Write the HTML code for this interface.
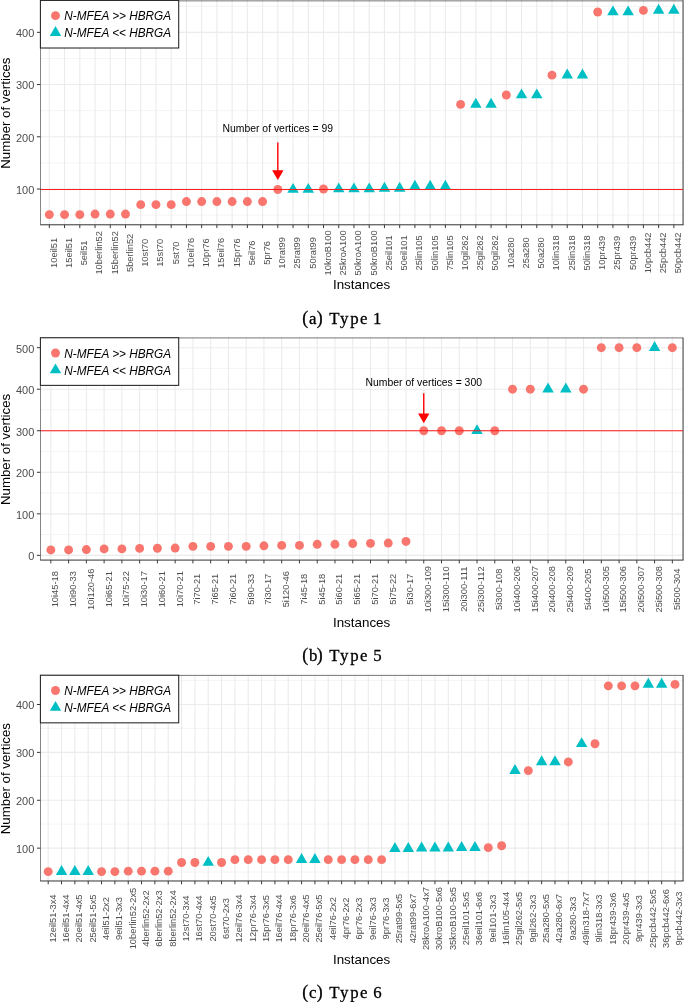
<!DOCTYPE html>
<html><head><meta charset="utf-8"><title>Figure</title>
<style>html,body{margin:0;padding:0;background:#fff;} svg{display:block;will-change:transform;} text{font-family:"Liberation Sans", sans-serif;}</style>
</head><body>
<svg width="685" height="1002" viewBox="0 0 685 1002">
<rect width="685" height="1002" fill="#fff"/>
<line x1="40.2" x2="683" y1="215.1" y2="215.1" stroke="#F3F3F3" stroke-width="0.9"/>
<line x1="40.2" x2="683" y1="162.89" y2="162.89" stroke="#F3F3F3" stroke-width="0.9"/>
<line x1="40.2" x2="683" y1="110.67" y2="110.67" stroke="#F3F3F3" stroke-width="0.9"/>
<line x1="40.2" x2="683" y1="58.46" y2="58.46" stroke="#F3F3F3" stroke-width="0.9"/>
<line x1="40.2" x2="683" y1="6.24" y2="6.24" stroke="#F3F3F3" stroke-width="0.9"/>
<line x1="40.2" x2="683" y1="189" y2="189" stroke="#EBEBEB" stroke-width="1.1"/>
<line x1="40.2" x2="683" y1="136.78" y2="136.78" stroke="#EBEBEB" stroke-width="1.1"/>
<line x1="40.2" x2="683" y1="84.56" y2="84.56" stroke="#EBEBEB" stroke-width="1.1"/>
<line x1="40.2" x2="683" y1="32.35" y2="32.35" stroke="#EBEBEB" stroke-width="1.1"/>
<line x1="49.34" x2="49.34" y1="0.21" y2="224.79" stroke="#EBEBEB" stroke-width="1.1"/>
<line x1="64.57" x2="64.57" y1="0.21" y2="224.79" stroke="#EBEBEB" stroke-width="1.1"/>
<line x1="79.8" x2="79.8" y1="0.21" y2="224.79" stroke="#EBEBEB" stroke-width="1.1"/>
<line x1="95.04" x2="95.04" y1="0.21" y2="224.79" stroke="#EBEBEB" stroke-width="1.1"/>
<line x1="110.27" x2="110.27" y1="0.21" y2="224.79" stroke="#EBEBEB" stroke-width="1.1"/>
<line x1="125.5" x2="125.5" y1="0.21" y2="224.79" stroke="#EBEBEB" stroke-width="1.1"/>
<line x1="140.73" x2="140.73" y1="0.21" y2="224.79" stroke="#EBEBEB" stroke-width="1.1"/>
<line x1="155.96" x2="155.96" y1="0.21" y2="224.79" stroke="#EBEBEB" stroke-width="1.1"/>
<line x1="171.2" x2="171.2" y1="0.21" y2="224.79" stroke="#EBEBEB" stroke-width="1.1"/>
<line x1="186.43" x2="186.43" y1="0.21" y2="224.79" stroke="#EBEBEB" stroke-width="1.1"/>
<line x1="201.66" x2="201.66" y1="0.21" y2="224.79" stroke="#EBEBEB" stroke-width="1.1"/>
<line x1="216.89" x2="216.89" y1="0.21" y2="224.79" stroke="#EBEBEB" stroke-width="1.1"/>
<line x1="232.13" x2="232.13" y1="0.21" y2="224.79" stroke="#EBEBEB" stroke-width="1.1"/>
<line x1="247.36" x2="247.36" y1="0.21" y2="224.79" stroke="#EBEBEB" stroke-width="1.1"/>
<line x1="262.59" x2="262.59" y1="0.21" y2="224.79" stroke="#EBEBEB" stroke-width="1.1"/>
<line x1="277.82" x2="277.82" y1="0.21" y2="224.79" stroke="#EBEBEB" stroke-width="1.1"/>
<line x1="293.05" x2="293.05" y1="0.21" y2="224.79" stroke="#EBEBEB" stroke-width="1.1"/>
<line x1="308.29" x2="308.29" y1="0.21" y2="224.79" stroke="#EBEBEB" stroke-width="1.1"/>
<line x1="323.52" x2="323.52" y1="0.21" y2="224.79" stroke="#EBEBEB" stroke-width="1.1"/>
<line x1="338.75" x2="338.75" y1="0.21" y2="224.79" stroke="#EBEBEB" stroke-width="1.1"/>
<line x1="353.98" x2="353.98" y1="0.21" y2="224.79" stroke="#EBEBEB" stroke-width="1.1"/>
<line x1="369.22" x2="369.22" y1="0.21" y2="224.79" stroke="#EBEBEB" stroke-width="1.1"/>
<line x1="384.45" x2="384.45" y1="0.21" y2="224.79" stroke="#EBEBEB" stroke-width="1.1"/>
<line x1="399.68" x2="399.68" y1="0.21" y2="224.79" stroke="#EBEBEB" stroke-width="1.1"/>
<line x1="414.91" x2="414.91" y1="0.21" y2="224.79" stroke="#EBEBEB" stroke-width="1.1"/>
<line x1="430.15" x2="430.15" y1="0.21" y2="224.79" stroke="#EBEBEB" stroke-width="1.1"/>
<line x1="445.38" x2="445.38" y1="0.21" y2="224.79" stroke="#EBEBEB" stroke-width="1.1"/>
<line x1="460.61" x2="460.61" y1="0.21" y2="224.79" stroke="#EBEBEB" stroke-width="1.1"/>
<line x1="475.84" x2="475.84" y1="0.21" y2="224.79" stroke="#EBEBEB" stroke-width="1.1"/>
<line x1="491.07" x2="491.07" y1="0.21" y2="224.79" stroke="#EBEBEB" stroke-width="1.1"/>
<line x1="506.31" x2="506.31" y1="0.21" y2="224.79" stroke="#EBEBEB" stroke-width="1.1"/>
<line x1="521.54" x2="521.54" y1="0.21" y2="224.79" stroke="#EBEBEB" stroke-width="1.1"/>
<line x1="536.77" x2="536.77" y1="0.21" y2="224.79" stroke="#EBEBEB" stroke-width="1.1"/>
<line x1="552" x2="552" y1="0.21" y2="224.79" stroke="#EBEBEB" stroke-width="1.1"/>
<line x1="567.24" x2="567.24" y1="0.21" y2="224.79" stroke="#EBEBEB" stroke-width="1.1"/>
<line x1="582.47" x2="582.47" y1="0.21" y2="224.79" stroke="#EBEBEB" stroke-width="1.1"/>
<line x1="597.7" x2="597.7" y1="0.21" y2="224.79" stroke="#EBEBEB" stroke-width="1.1"/>
<line x1="612.93" x2="612.93" y1="0.21" y2="224.79" stroke="#EBEBEB" stroke-width="1.1"/>
<line x1="628.16" x2="628.16" y1="0.21" y2="224.79" stroke="#EBEBEB" stroke-width="1.1"/>
<line x1="643.4" x2="643.4" y1="0.21" y2="224.79" stroke="#EBEBEB" stroke-width="1.1"/>
<line x1="658.63" x2="658.63" y1="0.21" y2="224.79" stroke="#EBEBEB" stroke-width="1.1"/>
<line x1="673.86" x2="673.86" y1="0.21" y2="224.79" stroke="#EBEBEB" stroke-width="1.1"/>
<line x1="40.2" x2="683.05" y1="0.87" y2="0.87" stroke="#333" stroke-width="0.68"/>
<line x1="683.05" x2="683.05" y1="0.21" y2="224.79" stroke="#333" stroke-width="1.0"/>
<circle cx="49.34" cy="214.58" r="4.45" fill="#F8766D"/>
<circle cx="64.57" cy="214.58" r="4.45" fill="#F8766D"/>
<circle cx="79.8" cy="214.58" r="4.45" fill="#F8766D"/>
<circle cx="95.04" cy="214.06" r="4.45" fill="#F8766D"/>
<circle cx="110.27" cy="214.06" r="4.45" fill="#F8766D"/>
<circle cx="125.5" cy="214.06" r="4.45" fill="#F8766D"/>
<circle cx="140.73" cy="204.66" r="4.45" fill="#F8766D"/>
<circle cx="155.96" cy="204.66" r="4.45" fill="#F8766D"/>
<circle cx="171.2" cy="204.66" r="4.45" fill="#F8766D"/>
<circle cx="186.43" cy="201.53" r="4.45" fill="#F8766D"/>
<circle cx="201.66" cy="201.53" r="4.45" fill="#F8766D"/>
<circle cx="216.89" cy="201.53" r="4.45" fill="#F8766D"/>
<circle cx="232.13" cy="201.53" r="4.45" fill="#F8766D"/>
<circle cx="247.36" cy="201.53" r="4.45" fill="#F8766D"/>
<circle cx="262.59" cy="201.53" r="4.45" fill="#F8766D"/>
<circle cx="277.82" cy="189.52" r="4.45" fill="#F8766D"/>
<path d="M293.05 182.91L298.78 192.82L287.33 192.82Z" fill="#00BFC4"/>
<path d="M308.29 182.91L314.01 192.82L302.56 192.82Z" fill="#00BFC4"/>
<circle cx="323.52" cy="189" r="4.45" fill="#F8766D"/>
<path d="M338.75 182.39L344.48 192.3L333.03 192.3Z" fill="#00BFC4"/>
<path d="M353.98 182.39L359.71 192.3L348.26 192.3Z" fill="#00BFC4"/>
<path d="M369.22 182.39L374.94 192.3L363.49 192.3Z" fill="#00BFC4"/>
<path d="M384.45 181.86L390.17 191.78L378.72 191.78Z" fill="#00BFC4"/>
<path d="M399.68 181.86L405.4 191.78L393.96 191.78Z" fill="#00BFC4"/>
<path d="M414.91 179.78L420.64 189.69L409.19 189.69Z" fill="#00BFC4"/>
<path d="M430.15 179.78L435.87 189.69L424.42 189.69Z" fill="#00BFC4"/>
<path d="M445.38 179.78L451.1 189.69L439.65 189.69Z" fill="#00BFC4"/>
<circle cx="460.61" cy="104.41" r="4.45" fill="#F8766D"/>
<path d="M475.84 97.8L481.57 107.71L470.12 107.71Z" fill="#00BFC4"/>
<path d="M491.07 97.8L496.8 107.71L485.35 107.71Z" fill="#00BFC4"/>
<circle cx="506.31" cy="95.01" r="4.45" fill="#F8766D"/>
<path d="M521.54 88.4L527.26 98.31L515.81 98.31Z" fill="#00BFC4"/>
<path d="M536.77 88.4L542.49 98.31L531.05 98.31Z" fill="#00BFC4"/>
<circle cx="552" cy="75.17" r="4.45" fill="#F8766D"/>
<path d="M567.24 68.56L572.96 78.47L561.51 78.47Z" fill="#00BFC4"/>
<path d="M582.47 68.56L588.19 78.47L576.74 78.47Z" fill="#00BFC4"/>
<circle cx="597.7" cy="11.98" r="4.45" fill="#F8766D"/>
<path d="M612.93 5.38L618.66 15.29L607.21 15.29Z" fill="#00BFC4"/>
<path d="M628.16 5.38L633.89 15.29L622.44 15.29Z" fill="#00BFC4"/>
<circle cx="643.4" cy="10.42" r="4.45" fill="#F8766D"/>
<path d="M658.63 3.81L664.35 13.72L652.9 13.72Z" fill="#00BFC4"/>
<path d="M673.86 3.81L679.58 13.72L668.14 13.72Z" fill="#00BFC4"/>
<line x1="40.2" x2="683" y1="189.52" y2="189.52" stroke="#FF1A1A" stroke-width="1.0"/>
<line x1="277.82" x2="277.82" y1="142.52" y2="171.32" stroke="#FF0000" stroke-width="1.4"/>
<path d="M272.12 170.32L283.52 170.32L277.82 180.12Z" fill="#FF0000"/>
<text x="277.82" y="131.7" font-size="10.4" text-anchor="middle" fill="#000">Number of vertices = 99</text>
<line x1="40.5" x2="40.5" y1="0.21" y2="224.79" stroke="#333" stroke-width="0.6"/>
<line x1="40.2" x2="683.55" y1="224.79" y2="224.79" stroke="#333" stroke-width="1.0"/>
<line x1="36.9" x2="40.4" y1="189" y2="189" stroke="#3a3a3a" stroke-width="1.0"/>
<text x="34.35" y="193.85" font-size="11.0" text-anchor="end" fill="#4D4D4D">100</text>
<line x1="36.9" x2="40.4" y1="136.78" y2="136.78" stroke="#3a3a3a" stroke-width="1.0"/>
<text x="34.35" y="141.63" font-size="11.0" text-anchor="end" fill="#4D4D4D">200</text>
<line x1="36.9" x2="40.4" y1="84.56" y2="84.56" stroke="#3a3a3a" stroke-width="1.0"/>
<text x="34.35" y="89.41" font-size="11.0" text-anchor="end" fill="#4D4D4D">300</text>
<line x1="36.9" x2="40.4" y1="32.35" y2="32.35" stroke="#3a3a3a" stroke-width="1.0"/>
<text x="34.35" y="37.2" font-size="11.0" text-anchor="end" fill="#4D4D4D">400</text>
<line x1="49.34" x2="49.34" y1="224.79" y2="228.09" stroke="#3a3a3a" stroke-width="1.0"/>
<text transform="translate(56.74 252.9) rotate(-90)" font-size="9.3" text-anchor="middle" fill="#4D4D4D">10eil51</text>
<line x1="64.57" x2="64.57" y1="224.79" y2="228.09" stroke="#3a3a3a" stroke-width="1.0"/>
<text transform="translate(71.97 252.9) rotate(-90)" font-size="9.3" text-anchor="middle" fill="#4D4D4D">15eil51</text>
<line x1="79.8" x2="79.8" y1="224.79" y2="228.09" stroke="#3a3a3a" stroke-width="1.0"/>
<text transform="translate(87.2 252.9) rotate(-90)" font-size="9.3" text-anchor="middle" fill="#4D4D4D">5eil51</text>
<line x1="95.04" x2="95.04" y1="224.79" y2="228.09" stroke="#3a3a3a" stroke-width="1.0"/>
<text transform="translate(102.44 252.9) rotate(-90)" font-size="9.3" text-anchor="middle" fill="#4D4D4D">10berlin52</text>
<line x1="110.27" x2="110.27" y1="224.79" y2="228.09" stroke="#3a3a3a" stroke-width="1.0"/>
<text transform="translate(117.67 252.9) rotate(-90)" font-size="9.3" text-anchor="middle" fill="#4D4D4D">15berlin52</text>
<line x1="125.5" x2="125.5" y1="224.79" y2="228.09" stroke="#3a3a3a" stroke-width="1.0"/>
<text transform="translate(132.9 252.9) rotate(-90)" font-size="9.3" text-anchor="middle" fill="#4D4D4D">5berlin52</text>
<line x1="140.73" x2="140.73" y1="224.79" y2="228.09" stroke="#3a3a3a" stroke-width="1.0"/>
<text transform="translate(148.13 252.9) rotate(-90)" font-size="9.3" text-anchor="middle" fill="#4D4D4D">10st70</text>
<line x1="155.96" x2="155.96" y1="224.79" y2="228.09" stroke="#3a3a3a" stroke-width="1.0"/>
<text transform="translate(163.36 252.9) rotate(-90)" font-size="9.3" text-anchor="middle" fill="#4D4D4D">15st70</text>
<line x1="171.2" x2="171.2" y1="224.79" y2="228.09" stroke="#3a3a3a" stroke-width="1.0"/>
<text transform="translate(178.6 252.9) rotate(-90)" font-size="9.3" text-anchor="middle" fill="#4D4D4D">5st70</text>
<line x1="186.43" x2="186.43" y1="224.79" y2="228.09" stroke="#3a3a3a" stroke-width="1.0"/>
<text transform="translate(193.83 252.9) rotate(-90)" font-size="9.3" text-anchor="middle" fill="#4D4D4D">10eil76</text>
<line x1="201.66" x2="201.66" y1="224.79" y2="228.09" stroke="#3a3a3a" stroke-width="1.0"/>
<text transform="translate(209.06 252.9) rotate(-90)" font-size="9.3" text-anchor="middle" fill="#4D4D4D">10pr76</text>
<line x1="216.89" x2="216.89" y1="224.79" y2="228.09" stroke="#3a3a3a" stroke-width="1.0"/>
<text transform="translate(224.29 252.9) rotate(-90)" font-size="9.3" text-anchor="middle" fill="#4D4D4D">15eil76</text>
<line x1="232.13" x2="232.13" y1="224.79" y2="228.09" stroke="#3a3a3a" stroke-width="1.0"/>
<text transform="translate(239.53 252.9) rotate(-90)" font-size="9.3" text-anchor="middle" fill="#4D4D4D">15pr76</text>
<line x1="247.36" x2="247.36" y1="224.79" y2="228.09" stroke="#3a3a3a" stroke-width="1.0"/>
<text transform="translate(254.76 252.9) rotate(-90)" font-size="9.3" text-anchor="middle" fill="#4D4D4D">5eil76</text>
<line x1="262.59" x2="262.59" y1="224.79" y2="228.09" stroke="#3a3a3a" stroke-width="1.0"/>
<text transform="translate(269.99 252.9) rotate(-90)" font-size="9.3" text-anchor="middle" fill="#4D4D4D">5pr76</text>
<line x1="277.82" x2="277.82" y1="224.79" y2="228.09" stroke="#3a3a3a" stroke-width="1.0"/>
<text transform="translate(285.22 252.9) rotate(-90)" font-size="9.3" text-anchor="middle" fill="#4D4D4D">10rat99</text>
<line x1="293.05" x2="293.05" y1="224.79" y2="228.09" stroke="#3a3a3a" stroke-width="1.0"/>
<text transform="translate(300.45 252.9) rotate(-90)" font-size="9.3" text-anchor="middle" fill="#4D4D4D">25rat99</text>
<line x1="308.29" x2="308.29" y1="224.79" y2="228.09" stroke="#3a3a3a" stroke-width="1.0"/>
<text transform="translate(315.69 252.9) rotate(-90)" font-size="9.3" text-anchor="middle" fill="#4D4D4D">50rat99</text>
<line x1="323.52" x2="323.52" y1="224.79" y2="228.09" stroke="#3a3a3a" stroke-width="1.0"/>
<text transform="translate(330.92 252.9) rotate(-90)" font-size="9.3" text-anchor="middle" fill="#4D4D4D">10kroB100</text>
<line x1="338.75" x2="338.75" y1="224.79" y2="228.09" stroke="#3a3a3a" stroke-width="1.0"/>
<text transform="translate(346.15 252.9) rotate(-90)" font-size="9.3" text-anchor="middle" fill="#4D4D4D">25kroA100</text>
<line x1="353.98" x2="353.98" y1="224.79" y2="228.09" stroke="#3a3a3a" stroke-width="1.0"/>
<text transform="translate(361.38 252.9) rotate(-90)" font-size="9.3" text-anchor="middle" fill="#4D4D4D">50kroA100</text>
<line x1="369.22" x2="369.22" y1="224.79" y2="228.09" stroke="#3a3a3a" stroke-width="1.0"/>
<text transform="translate(376.62 252.9) rotate(-90)" font-size="9.3" text-anchor="middle" fill="#4D4D4D">50kroB100</text>
<line x1="384.45" x2="384.45" y1="224.79" y2="228.09" stroke="#3a3a3a" stroke-width="1.0"/>
<text transform="translate(391.85 252.9) rotate(-90)" font-size="9.3" text-anchor="middle" fill="#4D4D4D">25eil101</text>
<line x1="399.68" x2="399.68" y1="224.79" y2="228.09" stroke="#3a3a3a" stroke-width="1.0"/>
<text transform="translate(407.08 252.9) rotate(-90)" font-size="9.3" text-anchor="middle" fill="#4D4D4D">50eil101</text>
<line x1="414.91" x2="414.91" y1="224.79" y2="228.09" stroke="#3a3a3a" stroke-width="1.0"/>
<text transform="translate(422.31 252.9) rotate(-90)" font-size="9.3" text-anchor="middle" fill="#4D4D4D">25lin105</text>
<line x1="430.15" x2="430.15" y1="224.79" y2="228.09" stroke="#3a3a3a" stroke-width="1.0"/>
<text transform="translate(437.55 252.9) rotate(-90)" font-size="9.3" text-anchor="middle" fill="#4D4D4D">50lin105</text>
<line x1="445.38" x2="445.38" y1="224.79" y2="228.09" stroke="#3a3a3a" stroke-width="1.0"/>
<text transform="translate(452.78 252.9) rotate(-90)" font-size="9.3" text-anchor="middle" fill="#4D4D4D">75lin105</text>
<line x1="460.61" x2="460.61" y1="224.79" y2="228.09" stroke="#3a3a3a" stroke-width="1.0"/>
<text transform="translate(468.01 252.9) rotate(-90)" font-size="9.3" text-anchor="middle" fill="#4D4D4D">10gil262</text>
<line x1="475.84" x2="475.84" y1="224.79" y2="228.09" stroke="#3a3a3a" stroke-width="1.0"/>
<text transform="translate(483.24 252.9) rotate(-90)" font-size="9.3" text-anchor="middle" fill="#4D4D4D">25gil262</text>
<line x1="491.07" x2="491.07" y1="224.79" y2="228.09" stroke="#3a3a3a" stroke-width="1.0"/>
<text transform="translate(498.47 252.9) rotate(-90)" font-size="9.3" text-anchor="middle" fill="#4D4D4D">50gil262</text>
<line x1="506.31" x2="506.31" y1="224.79" y2="228.09" stroke="#3a3a3a" stroke-width="1.0"/>
<text transform="translate(513.71 252.9) rotate(-90)" font-size="9.3" text-anchor="middle" fill="#4D4D4D">10a280</text>
<line x1="521.54" x2="521.54" y1="224.79" y2="228.09" stroke="#3a3a3a" stroke-width="1.0"/>
<text transform="translate(528.94 252.9) rotate(-90)" font-size="9.3" text-anchor="middle" fill="#4D4D4D">25a280</text>
<line x1="536.77" x2="536.77" y1="224.79" y2="228.09" stroke="#3a3a3a" stroke-width="1.0"/>
<text transform="translate(544.17 252.9) rotate(-90)" font-size="9.3" text-anchor="middle" fill="#4D4D4D">50a280</text>
<line x1="552" x2="552" y1="224.79" y2="228.09" stroke="#3a3a3a" stroke-width="1.0"/>
<text transform="translate(559.4 252.9) rotate(-90)" font-size="9.3" text-anchor="middle" fill="#4D4D4D">10lin318</text>
<line x1="567.24" x2="567.24" y1="224.79" y2="228.09" stroke="#3a3a3a" stroke-width="1.0"/>
<text transform="translate(574.64 252.9) rotate(-90)" font-size="9.3" text-anchor="middle" fill="#4D4D4D">25lin318</text>
<line x1="582.47" x2="582.47" y1="224.79" y2="228.09" stroke="#3a3a3a" stroke-width="1.0"/>
<text transform="translate(589.87 252.9) rotate(-90)" font-size="9.3" text-anchor="middle" fill="#4D4D4D">50lin318</text>
<line x1="597.7" x2="597.7" y1="224.79" y2="228.09" stroke="#3a3a3a" stroke-width="1.0"/>
<text transform="translate(605.1 252.9) rotate(-90)" font-size="9.3" text-anchor="middle" fill="#4D4D4D">10pr439</text>
<line x1="612.93" x2="612.93" y1="224.79" y2="228.09" stroke="#3a3a3a" stroke-width="1.0"/>
<text transform="translate(620.33 252.9) rotate(-90)" font-size="9.3" text-anchor="middle" fill="#4D4D4D">25pr439</text>
<line x1="628.16" x2="628.16" y1="224.79" y2="228.09" stroke="#3a3a3a" stroke-width="1.0"/>
<text transform="translate(635.56 252.9) rotate(-90)" font-size="9.3" text-anchor="middle" fill="#4D4D4D">50pr439</text>
<line x1="643.4" x2="643.4" y1="224.79" y2="228.09" stroke="#3a3a3a" stroke-width="1.0"/>
<text transform="translate(650.8 252.9) rotate(-90)" font-size="9.3" text-anchor="middle" fill="#4D4D4D">10pcb442</text>
<line x1="658.63" x2="658.63" y1="224.79" y2="228.09" stroke="#3a3a3a" stroke-width="1.0"/>
<text transform="translate(666.03 252.9) rotate(-90)" font-size="9.3" text-anchor="middle" fill="#4D4D4D">25pcb442</text>
<line x1="673.86" x2="673.86" y1="224.79" y2="228.09" stroke="#3a3a3a" stroke-width="1.0"/>
<text transform="translate(681.26 252.9) rotate(-90)" font-size="9.3" text-anchor="middle" fill="#4D4D4D">50pcb442</text>
<text transform="translate(9.9 113.1) rotate(-90)" font-size="13.25" text-anchor="middle" fill="#000">Number of vertices</text>
<text x="361.6" y="289.3" font-size="13.4" text-anchor="middle" fill="#000">Instances</text>
<rect x="40.4" y="0.41" width="138.3" height="47.6" fill="#fff" stroke="#222" stroke-width="1.05"/>
<circle cx="55.5" cy="15.66" r="4.45" fill="#F8766D"/>
<path d="M55.5 26.1L61.22 36.01L49.78 36.01Z" fill="#00BFC4"/>
<text transform="translate(64.2 20.31) scale(1 1.045)" font-size="11.8" font-style="italic" fill="#000">N-MFEA &gt;&gt; HBRGA</text>
<text transform="translate(64.2 37.21) scale(1 1.045)" font-size="11.8" font-style="italic" fill="#000">N-MFEA &lt;&lt; HBRGA</text>
<text style='font-family:"Liberation Serif", serif' fill="#000" stroke="#000" stroke-width="0.3"><tspan x="302.13" y="323.9" font-size="17.8">(</tspan><tspan x="308.99" y="323.9" font-size="16.8">a</tspan><tspan x="316.84" y="323.9" font-size="17.8">)</tspan><tspan x="329.31" y="323.9" font-size="16.8">T</tspan><tspan x="339.98" y="323.9" font-size="16.8">y</tspan><tspan x="350.19" y="323.9" font-size="16.8">p</tspan><tspan x="360.09" y="323.9" font-size="16.8">e</tspan><tspan x="373.07" y="323.9" font-size="16.8">1</tspan></text>
<line x1="40.2" x2="683" y1="534.6" y2="534.6" stroke="#F3F3F3" stroke-width="0.9"/>
<line x1="40.2" x2="683" y1="493.06" y2="493.06" stroke="#F3F3F3" stroke-width="0.9"/>
<line x1="40.2" x2="683" y1="451.52" y2="451.52" stroke="#F3F3F3" stroke-width="0.9"/>
<line x1="40.2" x2="683" y1="409.99" y2="409.99" stroke="#F3F3F3" stroke-width="0.9"/>
<line x1="40.2" x2="683" y1="368.45" y2="368.45" stroke="#F3F3F3" stroke-width="0.9"/>
<line x1="40.2" x2="683" y1="555.37" y2="555.37" stroke="#EBEBEB" stroke-width="1.1"/>
<line x1="40.2" x2="683" y1="513.83" y2="513.83" stroke="#EBEBEB" stroke-width="1.1"/>
<line x1="40.2" x2="683" y1="472.29" y2="472.29" stroke="#EBEBEB" stroke-width="1.1"/>
<line x1="40.2" x2="683" y1="430.76" y2="430.76" stroke="#EBEBEB" stroke-width="1.1"/>
<line x1="40.2" x2="683" y1="389.22" y2="389.22" stroke="#EBEBEB" stroke-width="1.1"/>
<line x1="40.2" x2="683" y1="347.68" y2="347.68" stroke="#EBEBEB" stroke-width="1.1"/>
<line x1="50.85" x2="50.85" y1="337.57" y2="560.08" stroke="#EBEBEB" stroke-width="1.1"/>
<line x1="68.61" x2="68.61" y1="337.57" y2="560.08" stroke="#EBEBEB" stroke-width="1.1"/>
<line x1="86.37" x2="86.37" y1="337.57" y2="560.08" stroke="#EBEBEB" stroke-width="1.1"/>
<line x1="104.12" x2="104.12" y1="337.57" y2="560.08" stroke="#EBEBEB" stroke-width="1.1"/>
<line x1="121.88" x2="121.88" y1="337.57" y2="560.08" stroke="#EBEBEB" stroke-width="1.1"/>
<line x1="139.64" x2="139.64" y1="337.57" y2="560.08" stroke="#EBEBEB" stroke-width="1.1"/>
<line x1="157.4" x2="157.4" y1="337.57" y2="560.08" stroke="#EBEBEB" stroke-width="1.1"/>
<line x1="175.15" x2="175.15" y1="337.57" y2="560.08" stroke="#EBEBEB" stroke-width="1.1"/>
<line x1="192.91" x2="192.91" y1="337.57" y2="560.08" stroke="#EBEBEB" stroke-width="1.1"/>
<line x1="210.67" x2="210.67" y1="337.57" y2="560.08" stroke="#EBEBEB" stroke-width="1.1"/>
<line x1="228.42" x2="228.42" y1="337.57" y2="560.08" stroke="#EBEBEB" stroke-width="1.1"/>
<line x1="246.18" x2="246.18" y1="337.57" y2="560.08" stroke="#EBEBEB" stroke-width="1.1"/>
<line x1="263.94" x2="263.94" y1="337.57" y2="560.08" stroke="#EBEBEB" stroke-width="1.1"/>
<line x1="281.69" x2="281.69" y1="337.57" y2="560.08" stroke="#EBEBEB" stroke-width="1.1"/>
<line x1="299.45" x2="299.45" y1="337.57" y2="560.08" stroke="#EBEBEB" stroke-width="1.1"/>
<line x1="317.21" x2="317.21" y1="337.57" y2="560.08" stroke="#EBEBEB" stroke-width="1.1"/>
<line x1="334.96" x2="334.96" y1="337.57" y2="560.08" stroke="#EBEBEB" stroke-width="1.1"/>
<line x1="352.72" x2="352.72" y1="337.57" y2="560.08" stroke="#EBEBEB" stroke-width="1.1"/>
<line x1="370.48" x2="370.48" y1="337.57" y2="560.08" stroke="#EBEBEB" stroke-width="1.1"/>
<line x1="388.24" x2="388.24" y1="337.57" y2="560.08" stroke="#EBEBEB" stroke-width="1.1"/>
<line x1="405.99" x2="405.99" y1="337.57" y2="560.08" stroke="#EBEBEB" stroke-width="1.1"/>
<line x1="423.75" x2="423.75" y1="337.57" y2="560.08" stroke="#EBEBEB" stroke-width="1.1"/>
<line x1="441.51" x2="441.51" y1="337.57" y2="560.08" stroke="#EBEBEB" stroke-width="1.1"/>
<line x1="459.26" x2="459.26" y1="337.57" y2="560.08" stroke="#EBEBEB" stroke-width="1.1"/>
<line x1="477.02" x2="477.02" y1="337.57" y2="560.08" stroke="#EBEBEB" stroke-width="1.1"/>
<line x1="494.78" x2="494.78" y1="337.57" y2="560.08" stroke="#EBEBEB" stroke-width="1.1"/>
<line x1="512.53" x2="512.53" y1="337.57" y2="560.08" stroke="#EBEBEB" stroke-width="1.1"/>
<line x1="530.29" x2="530.29" y1="337.57" y2="560.08" stroke="#EBEBEB" stroke-width="1.1"/>
<line x1="548.05" x2="548.05" y1="337.57" y2="560.08" stroke="#EBEBEB" stroke-width="1.1"/>
<line x1="565.8" x2="565.8" y1="337.57" y2="560.08" stroke="#EBEBEB" stroke-width="1.1"/>
<line x1="583.56" x2="583.56" y1="337.57" y2="560.08" stroke="#EBEBEB" stroke-width="1.1"/>
<line x1="601.32" x2="601.32" y1="337.57" y2="560.08" stroke="#EBEBEB" stroke-width="1.1"/>
<line x1="619.08" x2="619.08" y1="337.57" y2="560.08" stroke="#EBEBEB" stroke-width="1.1"/>
<line x1="636.83" x2="636.83" y1="337.57" y2="560.08" stroke="#EBEBEB" stroke-width="1.1"/>
<line x1="654.59" x2="654.59" y1="337.57" y2="560.08" stroke="#EBEBEB" stroke-width="1.1"/>
<line x1="672.35" x2="672.35" y1="337.57" y2="560.08" stroke="#EBEBEB" stroke-width="1.1"/>
<line x1="40.2" x2="683.05" y1="337.92" y2="337.92" stroke="#333" stroke-width="0.68"/>
<line x1="683.05" x2="683.05" y1="337.57" y2="560.08" stroke="#333" stroke-width="1.0"/>
<circle cx="50.85" cy="549.97" r="4.45" fill="#F8766D"/>
<circle cx="68.61" cy="549.97" r="4.45" fill="#F8766D"/>
<circle cx="86.37" cy="549.55" r="4.45" fill="#F8766D"/>
<circle cx="104.12" cy="548.89" r="4.45" fill="#F8766D"/>
<circle cx="121.88" cy="548.89" r="4.45" fill="#F8766D"/>
<circle cx="139.64" cy="548.39" r="4.45" fill="#F8766D"/>
<circle cx="157.4" cy="548.26" r="4.45" fill="#F8766D"/>
<circle cx="175.15" cy="548.06" r="4.45" fill="#F8766D"/>
<circle cx="192.91" cy="546.35" r="4.45" fill="#F8766D"/>
<circle cx="210.67" cy="546.35" r="4.45" fill="#F8766D"/>
<circle cx="228.42" cy="546.35" r="4.45" fill="#F8766D"/>
<circle cx="246.18" cy="546.35" r="4.45" fill="#F8766D"/>
<circle cx="263.94" cy="545.81" r="4.45" fill="#F8766D"/>
<circle cx="281.69" cy="545.4" r="4.45" fill="#F8766D"/>
<circle cx="299.45" cy="545.4" r="4.45" fill="#F8766D"/>
<circle cx="317.21" cy="544.28" r="4.45" fill="#F8766D"/>
<circle cx="334.96" cy="544.28" r="4.45" fill="#F8766D"/>
<circle cx="352.72" cy="543.57" r="4.45" fill="#F8766D"/>
<circle cx="370.48" cy="543.36" r="4.45" fill="#F8766D"/>
<circle cx="388.24" cy="543.07" r="4.45" fill="#F8766D"/>
<circle cx="405.99" cy="541.45" r="4.45" fill="#F8766D"/>
<circle cx="423.75" cy="430.76" r="4.45" fill="#F8766D"/>
<circle cx="441.51" cy="430.76" r="4.45" fill="#F8766D"/>
<circle cx="459.26" cy="430.76" r="4.45" fill="#F8766D"/>
<path d="M477.02 424.15L482.74 434.06L471.3 434.06Z" fill="#00BFC4"/>
<circle cx="494.78" cy="430.76" r="4.45" fill="#F8766D"/>
<circle cx="512.53" cy="389.22" r="4.45" fill="#F8766D"/>
<circle cx="530.29" cy="389.22" r="4.45" fill="#F8766D"/>
<path d="M548.05 382.61L553.77 392.53L542.32 392.53Z" fill="#00BFC4"/>
<path d="M565.8 382.61L571.53 392.53L560.08 392.53Z" fill="#00BFC4"/>
<circle cx="583.56" cy="389.22" r="4.45" fill="#F8766D"/>
<circle cx="601.32" cy="347.68" r="4.45" fill="#F8766D"/>
<circle cx="619.08" cy="347.68" r="4.45" fill="#F8766D"/>
<circle cx="636.83" cy="347.68" r="4.45" fill="#F8766D"/>
<path d="M654.59 341.07L660.31 350.99L648.87 350.99Z" fill="#00BFC4"/>
<circle cx="672.35" cy="347.68" r="4.45" fill="#F8766D"/>
<line x1="40.2" x2="683" y1="430.76" y2="430.76" stroke="#FF1A1A" stroke-width="1.0"/>
<line x1="423.75" x2="423.75" y1="393.37" y2="414.48" stroke="#FF0000" stroke-width="1.4"/>
<path d="M418.05 413.48L429.45 413.48L423.75 423.28Z" fill="#FF0000"/>
<text x="423.75" y="385.64" font-size="10.4" text-anchor="middle" fill="#000">Number of vertices = 300</text>
<line x1="40.5" x2="40.5" y1="337.57" y2="560.08" stroke="#333" stroke-width="0.6"/>
<line x1="40.2" x2="683.55" y1="560.08" y2="560.08" stroke="#333" stroke-width="1.0"/>
<line x1="36.9" x2="40.4" y1="555.37" y2="555.37" stroke="#3a3a3a" stroke-width="1.0"/>
<text x="34.35" y="560.22" font-size="11.0" text-anchor="end" fill="#4D4D4D">0</text>
<line x1="36.9" x2="40.4" y1="513.83" y2="513.83" stroke="#3a3a3a" stroke-width="1.0"/>
<text x="34.35" y="518.68" font-size="11.0" text-anchor="end" fill="#4D4D4D">100</text>
<line x1="36.9" x2="40.4" y1="472.29" y2="472.29" stroke="#3a3a3a" stroke-width="1.0"/>
<text x="34.35" y="477.14" font-size="11.0" text-anchor="end" fill="#4D4D4D">200</text>
<line x1="36.9" x2="40.4" y1="430.76" y2="430.76" stroke="#3a3a3a" stroke-width="1.0"/>
<text x="34.35" y="435.61" font-size="11.0" text-anchor="end" fill="#4D4D4D">300</text>
<line x1="36.9" x2="40.4" y1="389.22" y2="389.22" stroke="#3a3a3a" stroke-width="1.0"/>
<text x="34.35" y="394.07" font-size="11.0" text-anchor="end" fill="#4D4D4D">400</text>
<line x1="36.9" x2="40.4" y1="347.68" y2="347.68" stroke="#3a3a3a" stroke-width="1.0"/>
<text x="34.35" y="352.53" font-size="11.0" text-anchor="end" fill="#4D4D4D">500</text>
<line x1="50.85" x2="50.85" y1="560.08" y2="563.38" stroke="#3a3a3a" stroke-width="1.0"/>
<text transform="translate(58.25 589.25) rotate(-90)" font-size="9.3" text-anchor="middle" fill="#4D4D4D">10i45-18</text>
<line x1="68.61" x2="68.61" y1="560.08" y2="563.38" stroke="#3a3a3a" stroke-width="1.0"/>
<text transform="translate(76.01 589.25) rotate(-90)" font-size="9.3" text-anchor="middle" fill="#4D4D4D">10i90-33</text>
<line x1="86.37" x2="86.37" y1="560.08" y2="563.38" stroke="#3a3a3a" stroke-width="1.0"/>
<text transform="translate(93.77 589.25) rotate(-90)" font-size="9.3" text-anchor="middle" fill="#4D4D4D">10i120-46</text>
<line x1="104.12" x2="104.12" y1="560.08" y2="563.38" stroke="#3a3a3a" stroke-width="1.0"/>
<text transform="translate(111.52 589.25) rotate(-90)" font-size="9.3" text-anchor="middle" fill="#4D4D4D">10i65-21</text>
<line x1="121.88" x2="121.88" y1="560.08" y2="563.38" stroke="#3a3a3a" stroke-width="1.0"/>
<text transform="translate(129.28 589.25) rotate(-90)" font-size="9.3" text-anchor="middle" fill="#4D4D4D">10i75-22</text>
<line x1="139.64" x2="139.64" y1="560.08" y2="563.38" stroke="#3a3a3a" stroke-width="1.0"/>
<text transform="translate(147.04 589.25) rotate(-90)" font-size="9.3" text-anchor="middle" fill="#4D4D4D">10i30-17</text>
<line x1="157.4" x2="157.4" y1="560.08" y2="563.38" stroke="#3a3a3a" stroke-width="1.0"/>
<text transform="translate(164.8 589.25) rotate(-90)" font-size="9.3" text-anchor="middle" fill="#4D4D4D">10i60-21</text>
<line x1="175.15" x2="175.15" y1="560.08" y2="563.38" stroke="#3a3a3a" stroke-width="1.0"/>
<text transform="translate(182.55 589.25) rotate(-90)" font-size="9.3" text-anchor="middle" fill="#4D4D4D">10i70-21</text>
<line x1="192.91" x2="192.91" y1="560.08" y2="563.38" stroke="#3a3a3a" stroke-width="1.0"/>
<text transform="translate(200.31 589.25) rotate(-90)" font-size="9.3" text-anchor="middle" fill="#4D4D4D">7i70-21</text>
<line x1="210.67" x2="210.67" y1="560.08" y2="563.38" stroke="#3a3a3a" stroke-width="1.0"/>
<text transform="translate(218.07 589.25) rotate(-90)" font-size="9.3" text-anchor="middle" fill="#4D4D4D">7i65-21</text>
<line x1="228.42" x2="228.42" y1="560.08" y2="563.38" stroke="#3a3a3a" stroke-width="1.0"/>
<text transform="translate(235.82 589.25) rotate(-90)" font-size="9.3" text-anchor="middle" fill="#4D4D4D">7i60-21</text>
<line x1="246.18" x2="246.18" y1="560.08" y2="563.38" stroke="#3a3a3a" stroke-width="1.0"/>
<text transform="translate(253.58 589.25) rotate(-90)" font-size="9.3" text-anchor="middle" fill="#4D4D4D">5i90-33</text>
<line x1="263.94" x2="263.94" y1="560.08" y2="563.38" stroke="#3a3a3a" stroke-width="1.0"/>
<text transform="translate(271.34 589.25) rotate(-90)" font-size="9.3" text-anchor="middle" fill="#4D4D4D">7i30-17</text>
<line x1="281.69" x2="281.69" y1="560.08" y2="563.38" stroke="#3a3a3a" stroke-width="1.0"/>
<text transform="translate(289.09 589.25) rotate(-90)" font-size="9.3" text-anchor="middle" fill="#4D4D4D">5i120-46</text>
<line x1="299.45" x2="299.45" y1="560.08" y2="563.38" stroke="#3a3a3a" stroke-width="1.0"/>
<text transform="translate(306.85 589.25) rotate(-90)" font-size="9.3" text-anchor="middle" fill="#4D4D4D">7i45-18</text>
<line x1="317.21" x2="317.21" y1="560.08" y2="563.38" stroke="#3a3a3a" stroke-width="1.0"/>
<text transform="translate(324.61 589.25) rotate(-90)" font-size="9.3" text-anchor="middle" fill="#4D4D4D">5i45-18</text>
<line x1="334.96" x2="334.96" y1="560.08" y2="563.38" stroke="#3a3a3a" stroke-width="1.0"/>
<text transform="translate(342.36 589.25) rotate(-90)" font-size="9.3" text-anchor="middle" fill="#4D4D4D">5i60-21</text>
<line x1="352.72" x2="352.72" y1="560.08" y2="563.38" stroke="#3a3a3a" stroke-width="1.0"/>
<text transform="translate(360.12 589.25) rotate(-90)" font-size="9.3" text-anchor="middle" fill="#4D4D4D">5i65-21</text>
<line x1="370.48" x2="370.48" y1="560.08" y2="563.38" stroke="#3a3a3a" stroke-width="1.0"/>
<text transform="translate(377.88 589.25) rotate(-90)" font-size="9.3" text-anchor="middle" fill="#4D4D4D">5i70-21</text>
<line x1="388.24" x2="388.24" y1="560.08" y2="563.38" stroke="#3a3a3a" stroke-width="1.0"/>
<text transform="translate(395.64 589.25) rotate(-90)" font-size="9.3" text-anchor="middle" fill="#4D4D4D">5i75-22</text>
<line x1="405.99" x2="405.99" y1="560.08" y2="563.38" stroke="#3a3a3a" stroke-width="1.0"/>
<text transform="translate(413.39 589.25) rotate(-90)" font-size="9.3" text-anchor="middle" fill="#4D4D4D">5i30-17</text>
<line x1="423.75" x2="423.75" y1="560.08" y2="563.38" stroke="#3a3a3a" stroke-width="1.0"/>
<text transform="translate(431.15 589.25) rotate(-90)" font-size="9.3" text-anchor="middle" fill="#4D4D4D">10i300-109</text>
<line x1="441.51" x2="441.51" y1="560.08" y2="563.38" stroke="#3a3a3a" stroke-width="1.0"/>
<text transform="translate(448.91 589.25) rotate(-90)" font-size="9.3" text-anchor="middle" fill="#4D4D4D">15i300-110</text>
<line x1="459.26" x2="459.26" y1="560.08" y2="563.38" stroke="#3a3a3a" stroke-width="1.0"/>
<text transform="translate(466.66 589.25) rotate(-90)" font-size="9.3" text-anchor="middle" fill="#4D4D4D">20i300-111</text>
<line x1="477.02" x2="477.02" y1="560.08" y2="563.38" stroke="#3a3a3a" stroke-width="1.0"/>
<text transform="translate(484.42 589.25) rotate(-90)" font-size="9.3" text-anchor="middle" fill="#4D4D4D">25i300-112</text>
<line x1="494.78" x2="494.78" y1="560.08" y2="563.38" stroke="#3a3a3a" stroke-width="1.0"/>
<text transform="translate(502.18 589.25) rotate(-90)" font-size="9.3" text-anchor="middle" fill="#4D4D4D">5i300-108</text>
<line x1="512.53" x2="512.53" y1="560.08" y2="563.38" stroke="#3a3a3a" stroke-width="1.0"/>
<text transform="translate(519.93 589.25) rotate(-90)" font-size="9.3" text-anchor="middle" fill="#4D4D4D">10i400-206</text>
<line x1="530.29" x2="530.29" y1="560.08" y2="563.38" stroke="#3a3a3a" stroke-width="1.0"/>
<text transform="translate(537.69 589.25) rotate(-90)" font-size="9.3" text-anchor="middle" fill="#4D4D4D">15i400-207</text>
<line x1="548.05" x2="548.05" y1="560.08" y2="563.38" stroke="#3a3a3a" stroke-width="1.0"/>
<text transform="translate(555.45 589.25) rotate(-90)" font-size="9.3" text-anchor="middle" fill="#4D4D4D">20i400-208</text>
<line x1="565.8" x2="565.8" y1="560.08" y2="563.38" stroke="#3a3a3a" stroke-width="1.0"/>
<text transform="translate(573.2 589.25) rotate(-90)" font-size="9.3" text-anchor="middle" fill="#4D4D4D">25i400-209</text>
<line x1="583.56" x2="583.56" y1="560.08" y2="563.38" stroke="#3a3a3a" stroke-width="1.0"/>
<text transform="translate(590.96 589.25) rotate(-90)" font-size="9.3" text-anchor="middle" fill="#4D4D4D">5i400-205</text>
<line x1="601.32" x2="601.32" y1="560.08" y2="563.38" stroke="#3a3a3a" stroke-width="1.0"/>
<text transform="translate(608.72 589.25) rotate(-90)" font-size="9.3" text-anchor="middle" fill="#4D4D4D">10i500-305</text>
<line x1="619.08" x2="619.08" y1="560.08" y2="563.38" stroke="#3a3a3a" stroke-width="1.0"/>
<text transform="translate(626.48 589.25) rotate(-90)" font-size="9.3" text-anchor="middle" fill="#4D4D4D">15i500-306</text>
<line x1="636.83" x2="636.83" y1="560.08" y2="563.38" stroke="#3a3a3a" stroke-width="1.0"/>
<text transform="translate(644.23 589.25) rotate(-90)" font-size="9.3" text-anchor="middle" fill="#4D4D4D">20i500-307</text>
<line x1="654.59" x2="654.59" y1="560.08" y2="563.38" stroke="#3a3a3a" stroke-width="1.0"/>
<text transform="translate(661.99 589.25) rotate(-90)" font-size="9.3" text-anchor="middle" fill="#4D4D4D">25i500-308</text>
<line x1="672.35" x2="672.35" y1="560.08" y2="563.38" stroke="#3a3a3a" stroke-width="1.0"/>
<text transform="translate(679.75 589.25) rotate(-90)" font-size="9.3" text-anchor="middle" fill="#4D4D4D">5i500-304</text>
<text transform="translate(9.9 449.43) rotate(-90)" font-size="13.25" text-anchor="middle" fill="#000">Number of vertices</text>
<text x="361.6" y="627" font-size="13.4" text-anchor="middle" fill="#000">Instances</text>
<rect x="40.4" y="337.77" width="138.3" height="47.6" fill="#fff" stroke="#222" stroke-width="1.05"/>
<circle cx="55.5" cy="353.02" r="4.45" fill="#F8766D"/>
<path d="M55.5 363.46L61.22 373.37L49.78 373.37Z" fill="#00BFC4"/>
<text transform="translate(64.2 357.67) scale(1 1.045)" font-size="11.8" font-style="italic" fill="#000">N-MFEA &gt;&gt; HBRGA</text>
<text transform="translate(64.2 374.57) scale(1 1.045)" font-size="11.8" font-style="italic" fill="#000">N-MFEA &lt;&lt; HBRGA</text>
<text style='font-family:"Liberation Serif", serif' fill="#000" stroke="#000" stroke-width="0.3"><tspan x="302.13" y="661" font-size="17.8">(</tspan><tspan x="309.02" y="661" font-size="16.8">b</tspan><tspan x="316.84" y="661" font-size="17.8">)</tspan><tspan x="329.31" y="661" font-size="16.8">T</tspan><tspan x="339.98" y="661" font-size="16.8">y</tspan><tspan x="350.19" y="661" font-size="16.8">p</tspan><tspan x="360.09" y="661" font-size="16.8">e</tspan><tspan x="373.14" y="661" font-size="16.8">5</tspan></text>
<line x1="40.2" x2="683" y1="872.09" y2="872.09" stroke="#F3F3F3" stroke-width="0.9"/>
<line x1="40.2" x2="683" y1="824.21" y2="824.21" stroke="#F3F3F3" stroke-width="0.9"/>
<line x1="40.2" x2="683" y1="776.33" y2="776.33" stroke="#F3F3F3" stroke-width="0.9"/>
<line x1="40.2" x2="683" y1="728.45" y2="728.45" stroke="#F3F3F3" stroke-width="0.9"/>
<line x1="40.2" x2="683" y1="680.57" y2="680.57" stroke="#F3F3F3" stroke-width="0.9"/>
<line x1="40.2" x2="683" y1="848.15" y2="848.15" stroke="#EBEBEB" stroke-width="1.1"/>
<line x1="40.2" x2="683" y1="800.27" y2="800.27" stroke="#EBEBEB" stroke-width="1.1"/>
<line x1="40.2" x2="683" y1="752.39" y2="752.39" stroke="#EBEBEB" stroke-width="1.1"/>
<line x1="40.2" x2="683" y1="704.51" y2="704.51" stroke="#EBEBEB" stroke-width="1.1"/>
<line x1="48.2" x2="48.2" y1="675.04" y2="880.97" stroke="#EBEBEB" stroke-width="1.1"/>
<line x1="61.54" x2="61.54" y1="675.04" y2="880.97" stroke="#EBEBEB" stroke-width="1.1"/>
<line x1="74.87" x2="74.87" y1="675.04" y2="880.97" stroke="#EBEBEB" stroke-width="1.1"/>
<line x1="88.21" x2="88.21" y1="675.04" y2="880.97" stroke="#EBEBEB" stroke-width="1.1"/>
<line x1="101.55" x2="101.55" y1="675.04" y2="880.97" stroke="#EBEBEB" stroke-width="1.1"/>
<line x1="114.88" x2="114.88" y1="675.04" y2="880.97" stroke="#EBEBEB" stroke-width="1.1"/>
<line x1="128.22" x2="128.22" y1="675.04" y2="880.97" stroke="#EBEBEB" stroke-width="1.1"/>
<line x1="141.55" x2="141.55" y1="675.04" y2="880.97" stroke="#EBEBEB" stroke-width="1.1"/>
<line x1="154.89" x2="154.89" y1="675.04" y2="880.97" stroke="#EBEBEB" stroke-width="1.1"/>
<line x1="168.23" x2="168.23" y1="675.04" y2="880.97" stroke="#EBEBEB" stroke-width="1.1"/>
<line x1="181.56" x2="181.56" y1="675.04" y2="880.97" stroke="#EBEBEB" stroke-width="1.1"/>
<line x1="194.9" x2="194.9" y1="675.04" y2="880.97" stroke="#EBEBEB" stroke-width="1.1"/>
<line x1="208.23" x2="208.23" y1="675.04" y2="880.97" stroke="#EBEBEB" stroke-width="1.1"/>
<line x1="221.57" x2="221.57" y1="675.04" y2="880.97" stroke="#EBEBEB" stroke-width="1.1"/>
<line x1="234.91" x2="234.91" y1="675.04" y2="880.97" stroke="#EBEBEB" stroke-width="1.1"/>
<line x1="248.24" x2="248.24" y1="675.04" y2="880.97" stroke="#EBEBEB" stroke-width="1.1"/>
<line x1="261.58" x2="261.58" y1="675.04" y2="880.97" stroke="#EBEBEB" stroke-width="1.1"/>
<line x1="274.92" x2="274.92" y1="675.04" y2="880.97" stroke="#EBEBEB" stroke-width="1.1"/>
<line x1="288.25" x2="288.25" y1="675.04" y2="880.97" stroke="#EBEBEB" stroke-width="1.1"/>
<line x1="301.59" x2="301.59" y1="675.04" y2="880.97" stroke="#EBEBEB" stroke-width="1.1"/>
<line x1="314.92" x2="314.92" y1="675.04" y2="880.97" stroke="#EBEBEB" stroke-width="1.1"/>
<line x1="328.26" x2="328.26" y1="675.04" y2="880.97" stroke="#EBEBEB" stroke-width="1.1"/>
<line x1="341.6" x2="341.6" y1="675.04" y2="880.97" stroke="#EBEBEB" stroke-width="1.1"/>
<line x1="354.93" x2="354.93" y1="675.04" y2="880.97" stroke="#EBEBEB" stroke-width="1.1"/>
<line x1="368.27" x2="368.27" y1="675.04" y2="880.97" stroke="#EBEBEB" stroke-width="1.1"/>
<line x1="381.6" x2="381.6" y1="675.04" y2="880.97" stroke="#EBEBEB" stroke-width="1.1"/>
<line x1="394.94" x2="394.94" y1="675.04" y2="880.97" stroke="#EBEBEB" stroke-width="1.1"/>
<line x1="408.28" x2="408.28" y1="675.04" y2="880.97" stroke="#EBEBEB" stroke-width="1.1"/>
<line x1="421.61" x2="421.61" y1="675.04" y2="880.97" stroke="#EBEBEB" stroke-width="1.1"/>
<line x1="434.95" x2="434.95" y1="675.04" y2="880.97" stroke="#EBEBEB" stroke-width="1.1"/>
<line x1="448.28" x2="448.28" y1="675.04" y2="880.97" stroke="#EBEBEB" stroke-width="1.1"/>
<line x1="461.62" x2="461.62" y1="675.04" y2="880.97" stroke="#EBEBEB" stroke-width="1.1"/>
<line x1="474.96" x2="474.96" y1="675.04" y2="880.97" stroke="#EBEBEB" stroke-width="1.1"/>
<line x1="488.29" x2="488.29" y1="675.04" y2="880.97" stroke="#EBEBEB" stroke-width="1.1"/>
<line x1="501.63" x2="501.63" y1="675.04" y2="880.97" stroke="#EBEBEB" stroke-width="1.1"/>
<line x1="514.97" x2="514.97" y1="675.04" y2="880.97" stroke="#EBEBEB" stroke-width="1.1"/>
<line x1="528.3" x2="528.3" y1="675.04" y2="880.97" stroke="#EBEBEB" stroke-width="1.1"/>
<line x1="541.64" x2="541.64" y1="675.04" y2="880.97" stroke="#EBEBEB" stroke-width="1.1"/>
<line x1="554.97" x2="554.97" y1="675.04" y2="880.97" stroke="#EBEBEB" stroke-width="1.1"/>
<line x1="568.31" x2="568.31" y1="675.04" y2="880.97" stroke="#EBEBEB" stroke-width="1.1"/>
<line x1="581.65" x2="581.65" y1="675.04" y2="880.97" stroke="#EBEBEB" stroke-width="1.1"/>
<line x1="594.98" x2="594.98" y1="675.04" y2="880.97" stroke="#EBEBEB" stroke-width="1.1"/>
<line x1="608.32" x2="608.32" y1="675.04" y2="880.97" stroke="#EBEBEB" stroke-width="1.1"/>
<line x1="621.65" x2="621.65" y1="675.04" y2="880.97" stroke="#EBEBEB" stroke-width="1.1"/>
<line x1="634.99" x2="634.99" y1="675.04" y2="880.97" stroke="#EBEBEB" stroke-width="1.1"/>
<line x1="648.33" x2="648.33" y1="675.04" y2="880.97" stroke="#EBEBEB" stroke-width="1.1"/>
<line x1="661.66" x2="661.66" y1="675.04" y2="880.97" stroke="#EBEBEB" stroke-width="1.1"/>
<line x1="675" x2="675" y1="675.04" y2="880.97" stroke="#EBEBEB" stroke-width="1.1"/>
<line x1="40.2" x2="683.05" y1="675.39" y2="675.39" stroke="#333" stroke-width="0.68"/>
<line x1="683.05" x2="683.05" y1="675.04" y2="880.97" stroke="#333" stroke-width="1.0"/>
<circle cx="48.2" cy="871.61" r="4.45" fill="#F8766D"/>
<path d="M61.54 865L67.26 874.91L55.81 874.91Z" fill="#00BFC4"/>
<path d="M74.87 865L80.6 874.91L69.15 874.91Z" fill="#00BFC4"/>
<path d="M88.21 865L93.93 874.91L82.49 874.91Z" fill="#00BFC4"/>
<circle cx="101.55" cy="871.61" r="4.45" fill="#F8766D"/>
<circle cx="114.88" cy="871.61" r="4.45" fill="#F8766D"/>
<circle cx="128.22" cy="871.13" r="4.45" fill="#F8766D"/>
<circle cx="141.55" cy="871.13" r="4.45" fill="#F8766D"/>
<circle cx="154.89" cy="871.13" r="4.45" fill="#F8766D"/>
<circle cx="168.23" cy="871.13" r="4.45" fill="#F8766D"/>
<circle cx="181.56" cy="862.51" r="4.45" fill="#F8766D"/>
<circle cx="194.9" cy="862.51" r="4.45" fill="#F8766D"/>
<path d="M208.23 855.9L213.96 865.82L202.51 865.82Z" fill="#00BFC4"/>
<circle cx="221.57" cy="862.51" r="4.45" fill="#F8766D"/>
<circle cx="234.91" cy="859.64" r="4.45" fill="#F8766D"/>
<circle cx="248.24" cy="859.64" r="4.45" fill="#F8766D"/>
<circle cx="261.58" cy="859.64" r="4.45" fill="#F8766D"/>
<circle cx="274.92" cy="859.64" r="4.45" fill="#F8766D"/>
<circle cx="288.25" cy="859.64" r="4.45" fill="#F8766D"/>
<path d="M301.59 853.03L307.31 862.94L295.86 862.94Z" fill="#00BFC4"/>
<path d="M314.92 853.03L320.65 862.94L309.2 862.94Z" fill="#00BFC4"/>
<circle cx="328.26" cy="859.64" r="4.45" fill="#F8766D"/>
<circle cx="341.6" cy="859.64" r="4.45" fill="#F8766D"/>
<circle cx="354.93" cy="859.64" r="4.45" fill="#F8766D"/>
<circle cx="368.27" cy="859.64" r="4.45" fill="#F8766D"/>
<circle cx="381.6" cy="859.64" r="4.45" fill="#F8766D"/>
<path d="M394.94 842.02L400.66 851.93L389.22 851.93Z" fill="#00BFC4"/>
<path d="M408.28 842.02L414 851.93L402.55 851.93Z" fill="#00BFC4"/>
<path d="M421.61 841.54L427.34 851.45L415.89 851.45Z" fill="#00BFC4"/>
<path d="M434.95 841.54L440.67 851.45L429.22 851.45Z" fill="#00BFC4"/>
<path d="M448.28 841.54L454.01 851.45L442.56 851.45Z" fill="#00BFC4"/>
<path d="M461.62 841.06L467.34 850.97L455.9 850.97Z" fill="#00BFC4"/>
<path d="M474.96 841.06L480.68 850.97L469.23 850.97Z" fill="#00BFC4"/>
<circle cx="488.29" cy="847.67" r="4.45" fill="#F8766D"/>
<circle cx="501.63" cy="845.75" r="4.45" fill="#F8766D"/>
<path d="M514.97 763.97L520.69 773.89L509.24 773.89Z" fill="#00BFC4"/>
<circle cx="528.3" cy="770.58" r="4.45" fill="#F8766D"/>
<path d="M541.64 755.36L547.36 765.27L535.91 765.27Z" fill="#00BFC4"/>
<path d="M554.97 755.36L560.7 765.27L549.25 765.27Z" fill="#00BFC4"/>
<circle cx="568.31" cy="761.97" r="4.45" fill="#F8766D"/>
<path d="M581.65 737.16L587.37 747.08L575.92 747.08Z" fill="#00BFC4"/>
<circle cx="594.98" cy="743.77" r="4.45" fill="#F8766D"/>
<circle cx="608.32" cy="685.84" r="4.45" fill="#F8766D"/>
<circle cx="621.65" cy="685.84" r="4.45" fill="#F8766D"/>
<circle cx="634.99" cy="685.84" r="4.45" fill="#F8766D"/>
<path d="M648.33 677.79L654.05 687.71L642.6 687.71Z" fill="#00BFC4"/>
<path d="M661.66 677.79L667.39 687.71L655.94 687.71Z" fill="#00BFC4"/>
<circle cx="675" cy="684.4" r="4.45" fill="#F8766D"/>
<line x1="40.5" x2="40.5" y1="675.04" y2="880.97" stroke="#333" stroke-width="0.6"/>
<line x1="40.2" x2="683.55" y1="880.97" y2="880.97" stroke="#333" stroke-width="1.0"/>
<line x1="36.9" x2="40.4" y1="848.15" y2="848.15" stroke="#3a3a3a" stroke-width="1.0"/>
<text x="34.35" y="853" font-size="11.0" text-anchor="end" fill="#4D4D4D">100</text>
<line x1="36.9" x2="40.4" y1="800.27" y2="800.27" stroke="#3a3a3a" stroke-width="1.0"/>
<text x="34.35" y="805.12" font-size="11.0" text-anchor="end" fill="#4D4D4D">200</text>
<line x1="36.9" x2="40.4" y1="752.39" y2="752.39" stroke="#3a3a3a" stroke-width="1.0"/>
<text x="34.35" y="757.24" font-size="11.0" text-anchor="end" fill="#4D4D4D">300</text>
<line x1="36.9" x2="40.4" y1="704.51" y2="704.51" stroke="#3a3a3a" stroke-width="1.0"/>
<text x="34.35" y="709.36" font-size="11.0" text-anchor="end" fill="#4D4D4D">400</text>
<line x1="48.2" x2="48.2" y1="880.97" y2="884.27" stroke="#3a3a3a" stroke-width="1.0"/>
<text transform="translate(55.6 918.55) rotate(-90)" font-size="9.3" text-anchor="middle" fill="#4D4D4D">12eil51-3x4</text>
<line x1="61.54" x2="61.54" y1="880.97" y2="884.27" stroke="#3a3a3a" stroke-width="1.0"/>
<text transform="translate(68.94 918.55) rotate(-90)" font-size="9.3" text-anchor="middle" fill="#4D4D4D">16eil51-4x4</text>
<line x1="74.87" x2="74.87" y1="880.97" y2="884.27" stroke="#3a3a3a" stroke-width="1.0"/>
<text transform="translate(82.27 918.55) rotate(-90)" font-size="9.3" text-anchor="middle" fill="#4D4D4D">20eil51-4x5</text>
<line x1="88.21" x2="88.21" y1="880.97" y2="884.27" stroke="#3a3a3a" stroke-width="1.0"/>
<text transform="translate(95.61 918.55) rotate(-90)" font-size="9.3" text-anchor="middle" fill="#4D4D4D">25eil51-5x5</text>
<line x1="101.55" x2="101.55" y1="880.97" y2="884.27" stroke="#3a3a3a" stroke-width="1.0"/>
<text transform="translate(108.95 918.55) rotate(-90)" font-size="9.3" text-anchor="middle" fill="#4D4D4D">4eil51-2x2</text>
<line x1="114.88" x2="114.88" y1="880.97" y2="884.27" stroke="#3a3a3a" stroke-width="1.0"/>
<text transform="translate(122.28 918.55) rotate(-90)" font-size="9.3" text-anchor="middle" fill="#4D4D4D">9eil51-3x3</text>
<line x1="128.22" x2="128.22" y1="880.97" y2="884.27" stroke="#3a3a3a" stroke-width="1.0"/>
<text transform="translate(135.62 918.55) rotate(-90)" font-size="9.3" text-anchor="middle" fill="#4D4D4D">10berlin52-2x5</text>
<line x1="141.55" x2="141.55" y1="880.97" y2="884.27" stroke="#3a3a3a" stroke-width="1.0"/>
<text transform="translate(148.95 918.55) rotate(-90)" font-size="9.3" text-anchor="middle" fill="#4D4D4D">4berlin52-2x2</text>
<line x1="154.89" x2="154.89" y1="880.97" y2="884.27" stroke="#3a3a3a" stroke-width="1.0"/>
<text transform="translate(162.29 918.55) rotate(-90)" font-size="9.3" text-anchor="middle" fill="#4D4D4D">6berlin52-2x3</text>
<line x1="168.23" x2="168.23" y1="880.97" y2="884.27" stroke="#3a3a3a" stroke-width="1.0"/>
<text transform="translate(175.63 918.55) rotate(-90)" font-size="9.3" text-anchor="middle" fill="#4D4D4D">8berlin52-2x4</text>
<line x1="181.56" x2="181.56" y1="880.97" y2="884.27" stroke="#3a3a3a" stroke-width="1.0"/>
<text transform="translate(188.96 918.55) rotate(-90)" font-size="9.3" text-anchor="middle" fill="#4D4D4D">12st70-3x4</text>
<line x1="194.9" x2="194.9" y1="880.97" y2="884.27" stroke="#3a3a3a" stroke-width="1.0"/>
<text transform="translate(202.3 918.55) rotate(-90)" font-size="9.3" text-anchor="middle" fill="#4D4D4D">16st70-4x4</text>
<line x1="208.23" x2="208.23" y1="880.97" y2="884.27" stroke="#3a3a3a" stroke-width="1.0"/>
<text transform="translate(215.63 918.55) rotate(-90)" font-size="9.3" text-anchor="middle" fill="#4D4D4D">20st70-4x5</text>
<line x1="221.57" x2="221.57" y1="880.97" y2="884.27" stroke="#3a3a3a" stroke-width="1.0"/>
<text transform="translate(228.97 918.55) rotate(-90)" font-size="9.3" text-anchor="middle" fill="#4D4D4D">6st70-2x3</text>
<line x1="234.91" x2="234.91" y1="880.97" y2="884.27" stroke="#3a3a3a" stroke-width="1.0"/>
<text transform="translate(242.31 918.55) rotate(-90)" font-size="9.3" text-anchor="middle" fill="#4D4D4D">12eil76-3x4</text>
<line x1="248.24" x2="248.24" y1="880.97" y2="884.27" stroke="#3a3a3a" stroke-width="1.0"/>
<text transform="translate(255.64 918.55) rotate(-90)" font-size="9.3" text-anchor="middle" fill="#4D4D4D">12pr76-3x4</text>
<line x1="261.58" x2="261.58" y1="880.97" y2="884.27" stroke="#3a3a3a" stroke-width="1.0"/>
<text transform="translate(268.98 918.55) rotate(-90)" font-size="9.3" text-anchor="middle" fill="#4D4D4D">15pr76-3x5</text>
<line x1="274.92" x2="274.92" y1="880.97" y2="884.27" stroke="#3a3a3a" stroke-width="1.0"/>
<text transform="translate(282.32 918.55) rotate(-90)" font-size="9.3" text-anchor="middle" fill="#4D4D4D">16eil76-4x4</text>
<line x1="288.25" x2="288.25" y1="880.97" y2="884.27" stroke="#3a3a3a" stroke-width="1.0"/>
<text transform="translate(295.65 918.55) rotate(-90)" font-size="9.3" text-anchor="middle" fill="#4D4D4D">18pr76-3x6</text>
<line x1="301.59" x2="301.59" y1="880.97" y2="884.27" stroke="#3a3a3a" stroke-width="1.0"/>
<text transform="translate(308.99 918.55) rotate(-90)" font-size="9.3" text-anchor="middle" fill="#4D4D4D">20eil76-4x5</text>
<line x1="314.92" x2="314.92" y1="880.97" y2="884.27" stroke="#3a3a3a" stroke-width="1.0"/>
<text transform="translate(322.32 918.55) rotate(-90)" font-size="9.3" text-anchor="middle" fill="#4D4D4D">25eil76-5x5</text>
<line x1="328.26" x2="328.26" y1="880.97" y2="884.27" stroke="#3a3a3a" stroke-width="1.0"/>
<text transform="translate(335.66 918.55) rotate(-90)" font-size="9.3" text-anchor="middle" fill="#4D4D4D">4eil76-2x2</text>
<line x1="341.6" x2="341.6" y1="880.97" y2="884.27" stroke="#3a3a3a" stroke-width="1.0"/>
<text transform="translate(349 918.55) rotate(-90)" font-size="9.3" text-anchor="middle" fill="#4D4D4D">4pr76-2x2</text>
<line x1="354.93" x2="354.93" y1="880.97" y2="884.27" stroke="#3a3a3a" stroke-width="1.0"/>
<text transform="translate(362.33 918.55) rotate(-90)" font-size="9.3" text-anchor="middle" fill="#4D4D4D">6pr76-2x3</text>
<line x1="368.27" x2="368.27" y1="880.97" y2="884.27" stroke="#3a3a3a" stroke-width="1.0"/>
<text transform="translate(375.67 918.55) rotate(-90)" font-size="9.3" text-anchor="middle" fill="#4D4D4D">9eil76-3x3</text>
<line x1="381.6" x2="381.6" y1="880.97" y2="884.27" stroke="#3a3a3a" stroke-width="1.0"/>
<text transform="translate(389 918.55) rotate(-90)" font-size="9.3" text-anchor="middle" fill="#4D4D4D">9pr76-3x3</text>
<line x1="394.94" x2="394.94" y1="880.97" y2="884.27" stroke="#3a3a3a" stroke-width="1.0"/>
<text transform="translate(402.34 918.55) rotate(-90)" font-size="9.3" text-anchor="middle" fill="#4D4D4D">25rat99-5x5</text>
<line x1="408.28" x2="408.28" y1="880.97" y2="884.27" stroke="#3a3a3a" stroke-width="1.0"/>
<text transform="translate(415.68 918.55) rotate(-90)" font-size="9.3" text-anchor="middle" fill="#4D4D4D">42rat99-6x7</text>
<line x1="421.61" x2="421.61" y1="880.97" y2="884.27" stroke="#3a3a3a" stroke-width="1.0"/>
<text transform="translate(429.01 918.55) rotate(-90)" font-size="9.3" text-anchor="middle" fill="#4D4D4D">28kroA100-4x7</text>
<line x1="434.95" x2="434.95" y1="880.97" y2="884.27" stroke="#3a3a3a" stroke-width="1.0"/>
<text transform="translate(442.35 918.55) rotate(-90)" font-size="9.3" text-anchor="middle" fill="#4D4D4D">30kroB100-5x6</text>
<line x1="448.28" x2="448.28" y1="880.97" y2="884.27" stroke="#3a3a3a" stroke-width="1.0"/>
<text transform="translate(455.68 918.55) rotate(-90)" font-size="9.3" text-anchor="middle" fill="#4D4D4D">35kroB100-5x5</text>
<line x1="461.62" x2="461.62" y1="880.97" y2="884.27" stroke="#3a3a3a" stroke-width="1.0"/>
<text transform="translate(469.02 918.55) rotate(-90)" font-size="9.3" text-anchor="middle" fill="#4D4D4D">25eil101-5x5</text>
<line x1="474.96" x2="474.96" y1="880.97" y2="884.27" stroke="#3a3a3a" stroke-width="1.0"/>
<text transform="translate(482.36 918.55) rotate(-90)" font-size="9.3" text-anchor="middle" fill="#4D4D4D">36eil101-6x6</text>
<line x1="488.29" x2="488.29" y1="880.97" y2="884.27" stroke="#3a3a3a" stroke-width="1.0"/>
<text transform="translate(495.69 918.55) rotate(-90)" font-size="9.3" text-anchor="middle" fill="#4D4D4D">9eil101-3x3</text>
<line x1="501.63" x2="501.63" y1="880.97" y2="884.27" stroke="#3a3a3a" stroke-width="1.0"/>
<text transform="translate(509.03 918.55) rotate(-90)" font-size="9.3" text-anchor="middle" fill="#4D4D4D">16lin105-4x4</text>
<line x1="514.97" x2="514.97" y1="880.97" y2="884.27" stroke="#3a3a3a" stroke-width="1.0"/>
<text transform="translate(522.37 918.55) rotate(-90)" font-size="9.3" text-anchor="middle" fill="#4D4D4D">25gil262-5x5</text>
<line x1="528.3" x2="528.3" y1="880.97" y2="884.27" stroke="#3a3a3a" stroke-width="1.0"/>
<text transform="translate(535.7 918.55) rotate(-90)" font-size="9.3" text-anchor="middle" fill="#4D4D4D">9gil262-3x3</text>
<line x1="541.64" x2="541.64" y1="880.97" y2="884.27" stroke="#3a3a3a" stroke-width="1.0"/>
<text transform="translate(549.04 918.55) rotate(-90)" font-size="9.3" text-anchor="middle" fill="#4D4D4D">25a280-5x5</text>
<line x1="554.97" x2="554.97" y1="880.97" y2="884.27" stroke="#3a3a3a" stroke-width="1.0"/>
<text transform="translate(562.37 918.55) rotate(-90)" font-size="9.3" text-anchor="middle" fill="#4D4D4D">42a280-6x7</text>
<line x1="568.31" x2="568.31" y1="880.97" y2="884.27" stroke="#3a3a3a" stroke-width="1.0"/>
<text transform="translate(575.71 918.55) rotate(-90)" font-size="9.3" text-anchor="middle" fill="#4D4D4D">9a280-3x3</text>
<line x1="581.65" x2="581.65" y1="880.97" y2="884.27" stroke="#3a3a3a" stroke-width="1.0"/>
<text transform="translate(589.05 918.55) rotate(-90)" font-size="9.3" text-anchor="middle" fill="#4D4D4D">49lin318-7x7</text>
<line x1="594.98" x2="594.98" y1="880.97" y2="884.27" stroke="#3a3a3a" stroke-width="1.0"/>
<text transform="translate(602.38 918.55) rotate(-90)" font-size="9.3" text-anchor="middle" fill="#4D4D4D">9lin318-3x3</text>
<line x1="608.32" x2="608.32" y1="880.97" y2="884.27" stroke="#3a3a3a" stroke-width="1.0"/>
<text transform="translate(615.72 918.55) rotate(-90)" font-size="9.3" text-anchor="middle" fill="#4D4D4D">18pr439-3x6</text>
<line x1="621.65" x2="621.65" y1="880.97" y2="884.27" stroke="#3a3a3a" stroke-width="1.0"/>
<text transform="translate(629.05 918.55) rotate(-90)" font-size="9.3" text-anchor="middle" fill="#4D4D4D">20pr439-4x5</text>
<line x1="634.99" x2="634.99" y1="880.97" y2="884.27" stroke="#3a3a3a" stroke-width="1.0"/>
<text transform="translate(642.39 918.55) rotate(-90)" font-size="9.3" text-anchor="middle" fill="#4D4D4D">9pr439-3x3</text>
<line x1="648.33" x2="648.33" y1="880.97" y2="884.27" stroke="#3a3a3a" stroke-width="1.0"/>
<text transform="translate(655.73 918.55) rotate(-90)" font-size="9.3" text-anchor="middle" fill="#4D4D4D">25pcb442-5x5</text>
<line x1="661.66" x2="661.66" y1="880.97" y2="884.27" stroke="#3a3a3a" stroke-width="1.0"/>
<text transform="translate(669.06 918.55) rotate(-90)" font-size="9.3" text-anchor="middle" fill="#4D4D4D">36pcb442-6x6</text>
<line x1="675" x2="675" y1="880.97" y2="884.27" stroke="#3a3a3a" stroke-width="1.0"/>
<text transform="translate(682.4 918.55) rotate(-90)" font-size="9.3" text-anchor="middle" fill="#4D4D4D">9pcb442-3x3</text>
<text transform="translate(9.9 778.61) rotate(-90)" font-size="13.25" text-anchor="middle" fill="#000">Number of vertices</text>
<text x="361.6" y="963.5" font-size="13.4" text-anchor="middle" fill="#000">Instances</text>
<rect x="40.4" y="675.24" width="138.3" height="47.6" fill="#fff" stroke="#222" stroke-width="1.05"/>
<circle cx="55.5" cy="690.49" r="4.45" fill="#F8766D"/>
<path d="M55.5 700.93L61.22 710.84L49.78 710.84Z" fill="#00BFC4"/>
<text transform="translate(64.2 695.14) scale(1 1.045)" font-size="11.8" font-style="italic" fill="#000">N-MFEA &gt;&gt; HBRGA</text>
<text transform="translate(64.2 712.04) scale(1 1.045)" font-size="11.8" font-style="italic" fill="#000">N-MFEA &lt;&lt; HBRGA</text>
<text style='font-family:"Liberation Serif", serif' fill="#000" stroke="#000" stroke-width="0.3"><tspan x="302.13" y="997.9" font-size="17.8">(</tspan><tspan x="309.11" y="997.9" font-size="16.8">c</tspan><tspan x="316.84" y="997.9" font-size="17.8">)</tspan><tspan x="329.31" y="997.9" font-size="16.8">T</tspan><tspan x="339.98" y="997.9" font-size="16.8">y</tspan><tspan x="350.19" y="997.9" font-size="16.8">p</tspan><tspan x="360.09" y="997.9" font-size="16.8">e</tspan><tspan x="373.19" y="997.9" font-size="16.8">6</tspan></text>
</svg>
</body></html>
